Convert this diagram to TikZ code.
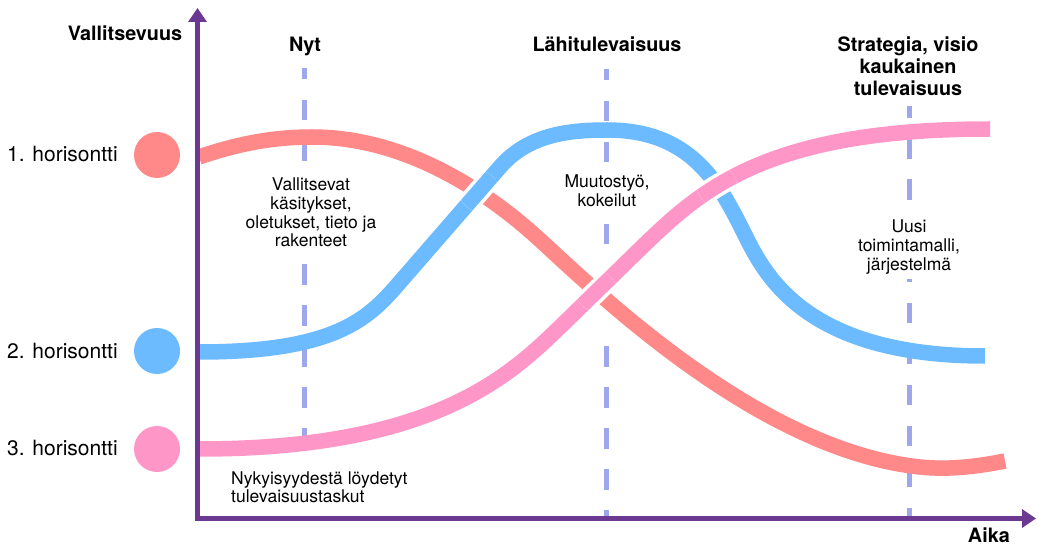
\documentclass[tikz,border=0pt]{standalone}
\usepackage{fontspec}
\setmainfont{TeX Gyre Heros}
\usetikzlibrary{arrows.meta}
\definecolor{curvered}{HTML}{FF8888}
\definecolor{curveblue}{HTML}{6CBAFF}
\definecolor{curvepink}{HTML}{FF96C8}
\definecolor{guide}{HTML}{9EA6EC}
\definecolor{axispurple}{HTML}{6B3991}

\begin{document}
\begin{tikzpicture}[x=1pt,y=-1pt,
  guideline/.style={guide, line width=5pt, dash pattern=on 20.5pt off 20.5pt},
  curve/.style={line width=15.5pt, line cap=butt},
  casing/.style={white, line width=22.5pt, line cap=butt},
  heading/.style={font=\fontsize{19.8}{22}\selectfont\bfseries, inner sep=0pt},
  horizon/.style={font=\fontsize{21}{24}\selectfont, inner sep=0pt, anchor=base west},
  note/.style={font=\fontsize{17.5}{18.6}\selectfont, fill=white, inner sep=3pt},
  dot/.style={circle, minimum size=46pt, inner sep=0pt}
]
\useasboundingbox (0,0) rectangle (1038,545);

% vertical time markers
\draw[guideline, dash phase=9pt] (304,68) coordinate (nytTop) -- (304,445) coordinate (nytBot);
\draw[guideline, dash phase=9pt] (606.5,69) coordinate (lahiTop) -- (606.5,245) coordinate (lahiMid);
\draw[guideline] (606.5,346) coordinate (lahiLow) -- (606.5,518) coordinate (lahiBot);
\draw[guideline, dash phase=8.5pt] (909.5,106) coordinate (stratTop) -- (909.5,518) coordinate (stratBot);

% notes under the markers
\node[note, anchor=base] (noteNyt) at (311,191)
  {\begin{tabular}[t]{@{}c@{}}Vallitsevat\\käsitykset,\\oletukset, tieto ja\\rakenteet\end{tabular}};
\node[note, anchor=base] (noteLahi) at (607,188)
  {\begin{tabular}[t]{@{}c@{}}Muutostyö,\\kokeilut\end{tabular}};
\node[note, anchor=base] (noteStrat) at (909,233)
  {\begin{tabular}[t]{@{}c@{}}Uusi\\toimintamalli,\\järjestelmä\end{tabular}};
\node[note, anchor=base west, inner sep=0pt] (notePockets) at (231,484)
  {\begin{tabular}[t]{@{}l@{}}Nykyisyydestä löydetyt\\tulevaisuustaskut\end{tabular}};

% the three horizon curves
\path[save path=\redcurve]
  (199,157) .. controls (240,143) and (275,137) .. (312,137)
  .. controls (400,137) and (480,185) .. (540,240)
  .. controls (600,295) and (760,450) .. (920,467)
  .. controls (950,470.2) and (980,466) .. (1005,461);
\path[save path=\bluecurve]
  (199,352) .. controls (339,352) and (370,316.5) .. (400,282)
  -- (500,167)
  .. controls (528,135) and (567,130) .. (607,130)
  .. controls (692.5,130) and (720,185) .. (745,235)
  .. controls (765,275) and (805.5,356) .. (985,356);
\path[save path=\pinkcurve]
  (199,449) .. controls (434,449) and (510,375) .. (560,327)
  -- (640,249)
  .. controls (700,191) and (764,129) .. (990,129);

\draw[curve, curvered, use path=\redcurve];
\draw[curve, curveblue, use path=\bluecurve];
\draw[curve, curvepink, use path=\pinkcurve];

% crossings: the upper curve gets a white edge
\begin{scope}
  \clip (479,191) circle[radius=20];
  \draw[casing, use path=\bluecurve];
  \draw[curve, curveblue, use path=\bluecurve];
\end{scope}
\begin{scope}
  \clip (596,291) circle[radius=20];
  \draw[casing, use path=\pinkcurve];
  \draw[curve, curvepink, use path=\pinkcurve];
\end{scope}
\begin{scope}
  \clip (717,186) circle[radius=20];
  \draw[casing, use path=\pinkcurve];
  \draw[curve, curvepink, use path=\pinkcurve];
\end{scope}

% axes
\coordinate (yTip) at (197.5,8);
\coordinate (origin) at (197.5,518.5);
\coordinate (xTip) at (1036,518.5);
\draw[axispurple, line width=5pt, line join=miter,
  {Triangle[length=14pt,width=18pt]}-{Triangle[length=14pt,width=18pt]}]
  (yTip) -- (origin) -- (xTip);

% axis and column headings
\node[heading, anchor=base] (yLabel) at (125,41) {Vallitsevuus};
\node[heading, anchor=base east] (xLabel) at (1010,542.5) {Aika};
\node[heading, anchor=base] (headNyt) at (305,52) {Nyt};
\node[heading, anchor=base] (headLahi) at (607,52) {Lähitulevaisuus};
\node[heading, anchor=base] (headStrat) at (908,52)
  {\begin{tabular}[t]{@{}c@{}}Strategia, visio\\kaukainen\\tulevaisuus\end{tabular}};

% horizon legend
\node[dot, fill=curvered] (dot1) at (157,155) {};
\node[dot, fill=curveblue] (dot2) at (157,351) {};
\node[dot, fill=curvepink] (dot3) at (157,449) {};
\node[horizon] (h1) at (7,161.7) {1. horisontti};
\node[horizon] (h2) at (7,358.3) {2. horisontti};
\node[horizon] (h3) at (7,455.7) {3. horisontti};
\end{tikzpicture}
\end{document}
